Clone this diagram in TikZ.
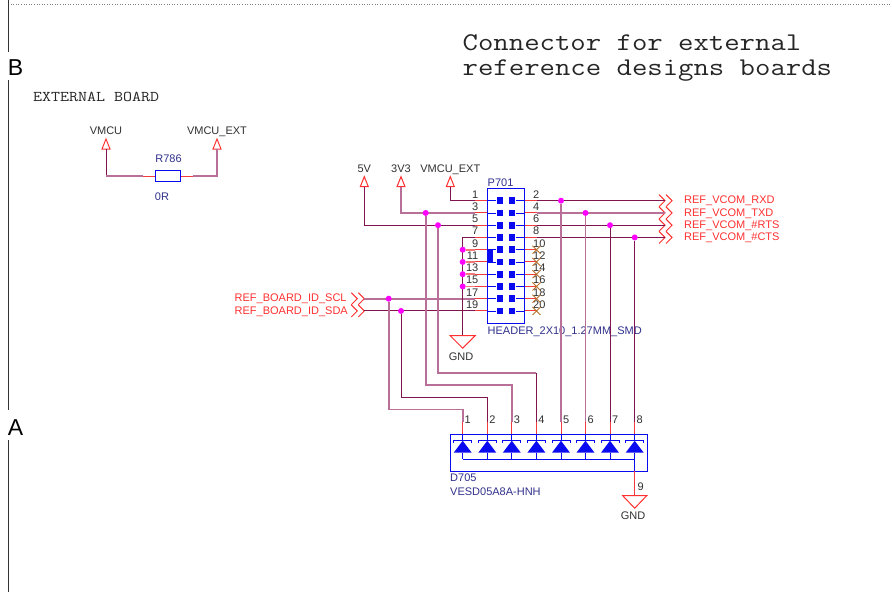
\documentclass[tikz,border=0pt]{standalone}
\usepackage{fontspec}
\setmainfont{Liberation Sans}
\newfontfamily\titlefont[FakeStretch=1.172]{Latin Modern Mono}
\usepackage[dvipsnames]{xcolor}
\usetikzlibrary{calc}
\definecolor{netdark}{HTML}{7F1450}
\definecolor{netpale}{HTML}{B87098}
\definecolor{pinred}{HTML}{F23C3C}
\definecolor{portred}{HTML}{FF3030}
\definecolor{refblue}{HTML}{30308C}
\definecolor{partblue}{HTML}{0A0AF0}
\definecolor{ncbrown}{HTML}{B8702C}
\definecolor{txtgrey}{HTML}{303030}
\definecolor{jctpink}{HTML}{FF00FF}
\tikzset{
	netd/.style={netdark,line width=1pt},
	netp/.style={netpale,line width=1.7pt},
	pinw/.style={pinred,line width=1pt},
	port/.style={portred,line width=1pt},
	part/.style={partblue,line width=0.9pt},
	jct/.style={circle,fill=jctpink,inner sep=0pt,minimum size=6pt},
	pad/.style={rectangle,fill=partblue,inner sep=0pt,minimum size=6.6pt},
	txt/.style={inner sep=0pt,font=\fontsize{11}{11}\selectfont,text=txtgrey},
	reftxt/.style={txt,text=refblue},
	porttxt/.style={txt,text=portred},
}
\begin{document}
\begin{tikzpicture}[x=1pt,y=-1pt]
	\useasboundingbox (0,0) rectangle (892,592);

	% sheet border
	\draw[gray,dotted,line width=0.6pt] (8,4) -- (892,4);
	\draw[black!80,line width=0.8pt] (8,0) -- (8,52) (8,80) -- (8,410) (8,440) -- (8,592);
	\node[anchor=base,inner sep=0pt,font=\fontsize{23}{23}\selectfont] (zoneB) at (15.5,75) {B};
	\node[anchor=base,inner sep=0pt,font=\fontsize{23}{23}\selectfont] (zoneA) at (15.5,435) {A};
	\node[anchor=base west,inner sep=0pt,text=black!85,font=\titlefont\fontsize{25.5}{25.5}\selectfont] (title1) at (462.5,50) {Connector for external};
	\node[anchor=base west,inner sep=0pt,text=black!85,font=\titlefont\fontsize{25.5}{25.5}\selectfont] (title2) at (462.5,75) {reference designs boards};
	\node[anchor=base west,inner sep=0pt,text=black!85,font=\titlefont\fontsize{14.9}{14.9}\selectfont] (board) at (33,101) {EXTERNAL BOARD};

	% power symbols
	\foreach \nm/\x/\y/\lbl in {vmcu/106/149/VMCU,vmcuext/217/149/VMCU\_EXT,fivev/364.3/186.7/5V,threev/401/186.7/3V3,vmcuextb/450.3/186.7/VMCU\_EXT}{
		\coordinate (\nm) at (\x,\y);
		\draw[port] (\nm) ++(-4,0) -- ++(4,-10) -- ++(4,10) -- cycle;
		\node[txt,anchor=base] (lbl\nm) at (\x,\y-14.5) {\lbl};
	}

	% R786
	\node[draw=partblue,line width=0.9pt,inner sep=0pt,minimum width=25pt,minimum height=10.4pt] (R786) at (167.8,176) {};
	\node[reftxt,anchor=base] (R786ref) at (168.5,162) {R786};
	\node[reftxt,anchor=base] (R786val) at (162,200) {0R};
	\coordinate (R786a) at (143,176);
	\coordinate (R786b) at (192.5,176);
	\draw[pinw] (R786a) -- (R786.west) (R786.east) -- (R786b);
	\draw[netd] (vmcu) -- (106,176);
	\draw[netp] (106,176) -- (R786a);
	\draw[netp] (vmcuext) |- (R786b);

	% P701
	\foreach \k in {0,...,9}{
		\pgfmathsetmacro{\yy}{200.7+12.25*\k}
		\pgfmathtruncatemacro{\odd}{2*\k+1}
		\pgfmathtruncatemacro{\even}{2*\k+2}
		\coordinate (pin\odd) at (475,\yy);
		\coordinate (pin\even) at (536.5,\yy);
		\node[pad] (pad\odd) at (499.8,\yy) {};
		\node[pad] (pad\even) at (512,\yy) {};
		\draw[partblue,line width=0.9pt] (pad\odd) -- (487.5,\yy) (pad\even) -- (524.3,\yy);
		\draw[pinw] (pin\odd) -- (487.5,\yy) (524.3,\yy) -- (pin\even);
		\node[txt,anchor=base east] (num\odd) at (478.5,\yy-2.7) {\odd};
		\node[txt,anchor=base west] (num\even) at (533,\yy-2.7) {\even};
	}
	\node[draw=partblue,line width=0.9pt,inner sep=0pt,minimum width=36.8pt,minimum height=134.7pt] (P701) at (505.9,255.7) {};
	\node[reftxt,anchor=base west] (P701ref) at (487.5,186) {P701};
	\node[reftxt,anchor=base west] (P701val) at (487.5,334) {HEADER\_2X10\_1.27MM\_SMD};
	\fill[partblue] (487.5,250) rectangle (492.6,262.3);

	% not connected pins
	\foreach \n in {10,12,...,20}{
		\draw[ncbrown,line width=0.8pt] (pin\n) ++(-4,-4) -- ++(8,8) ++(-8,0) -- ++(8,-8);
	}

	% D705
	\node[draw=partblue,line width=0.9pt,inner sep=0pt,minimum width=197.3pt,minimum height=37pt] (D705) at (548.6,452.5) {};
	\node[reftxt,anchor=base west] (D705ref) at (450,481) {D705};
	\node[reftxt,anchor=base west] (D705val) at (450,495) {VESD05A8A-HNH};
	\foreach \n/\x in {1/462.7,2/487.3,3/511.8,4/536.4,5/561,6/585.5,7/610,8/634.7}{
		\coordinate (dpin\n) at (\x,421.5);
		\draw[pinw] (dpin\n) -- (\x,434);
		\draw[part] (\x,434) -- (\x,441);
		\fill[partblue] (\x,440.7) -- (\x+9,452.7) -- (\x-9,452.7) -- cycle;
		\draw[part] (\x-9,443) -- (\x-9,440.7) -- (\x+9,440.7) -- (\x+9,443);
		\draw[part] (\x,452.7) -- (\x,459);
		\node[txt,anchor=base west] (dnum\n) at (\x+1.8,423) {\n};
	}
	\draw[part] (462.7,459) -- (634.7,459) -- (634.7,471);
	\coordinate (gndb) at (634.7,495.7);
	\draw[pinw] (D705.south -| gndb) -- (gndb);
	\draw[port] (gndb) ++(-12,0) -- ++(24,0) -- ++(-12,12.5) -- cycle;
	\node[txt,anchor=base] (gndbl) at (633,519) {GND};
	\node[txt,anchor=base west] (dnum9) at (637.5,490) {9};

	% ports
	\foreach \nm/\n/\lbl in {rxd/2/REF\_VCOM\_RXD,txd/4/REF\_VCOM\_TXD,rts/6/REF\_VCOM\_\#RTS,cts/8/REF\_VCOM\_\#CTS}{
		\coordinate (\nm) at ($(pin\n)+(128.5,0)$);
		\draw[port] (\nm) ++(-6,-6) -- ++(6,6) -- ++(-6,6) ++(7,-12) -- ++(6,6) -- ++(-6,6);
		\node[porttxt,anchor=base west] (lbl\nm) at ($(pin\n)+(147.5,3.2)$) {\lbl};
	}
	\foreach \nm/\n/\lbl in {scl/17/REF\_BOARD\_ID\_SCL,sda/19/REF\_BOARD\_ID\_SDA}{
		\coordinate (\nm) at ($(pin\n)+(-110.7,0)$);
		\draw[port] (\nm) ++(-6,-6) -- ++(6,6) -- ++(-6,6) ++(-7,-12) -- ++(6,6) -- ++(-6,6);
		\node[porttxt,anchor=base west] (lbl\nm) at ($(pin\n)+(-240.5,3.2)$) {\lbl};
	}

	% nets
	\draw[netd] (vmcuextb) |- (pin1);
	\draw[netp] (threev) |- (pin3);
	\draw[netd] (fivev) |- (pin5);
	\draw[netd] (pin2) -- (rxd);
	\draw[netp] (pin4) -- (txd);
	\draw[netd] (pin6) -- (rts);
	\draw[netd] (pin8) -- (cts);
	\draw[netp] (scl) -- (pin17);
	\draw[netd] (sda) -- (pin19);

	\coordinate (gnda) at (462.7,335.7);
	\draw[netd] (pin7) -| (gnda);
	\draw[port] (gnda) ++(-12.5,0) -- ++(25,0) -- ++(-12.5,12.5) -- cycle;
	\node[txt,anchor=base] (gndal) at (461,360) {GND};
	\foreach \n in {9,11,13,15}{
		\node[jct] (j\n) at (462.7,0 |- pin\n) {};
		\draw[netp,pinred!70] (j\n) -- (pin\n);
	}

	\node[jct] (jscl) at (388.7,0 |- pin17) {};
	\node[jct] (jsda) at (401,0 |- pin19) {};
	\node[jct] (jthree) at (425.7,0 |- pin3) {};
	\node[jct] (jfive) at (438,0 |- pin5) {};
	\node[jct] (jrxd) at (561,0 |- pin2) {};
	\node[jct] (jtxd) at (585.5,0 |- pin4) {};
	\node[jct] (jrts) at (610,0 |- pin6) {};
	\node[jct] (jcts) at (634.7,0 |- pin8) {};

	\draw[netp] (jscl) |- (462.7,409.5) -- (dpin1);
	\draw[netd] (jsda) |- (487.3,397.2) -- (dpin2);
	\draw[netp] (jthree) |- (511.8,385) -- (dpin3);
	\draw[netp] (jfive) |- (536.4,372.7);
	\draw[netd] (536.4,372.7) -- (dpin4);
	\draw[netp] (jrxd) -- (dpin5);
	\draw[netp] (jtxd) -- (dpin6);
	\draw[netd] (jrts) -- (dpin7);
	\draw[netd] (jcts) -- (dpin8);
\end{tikzpicture}
\end{document}
